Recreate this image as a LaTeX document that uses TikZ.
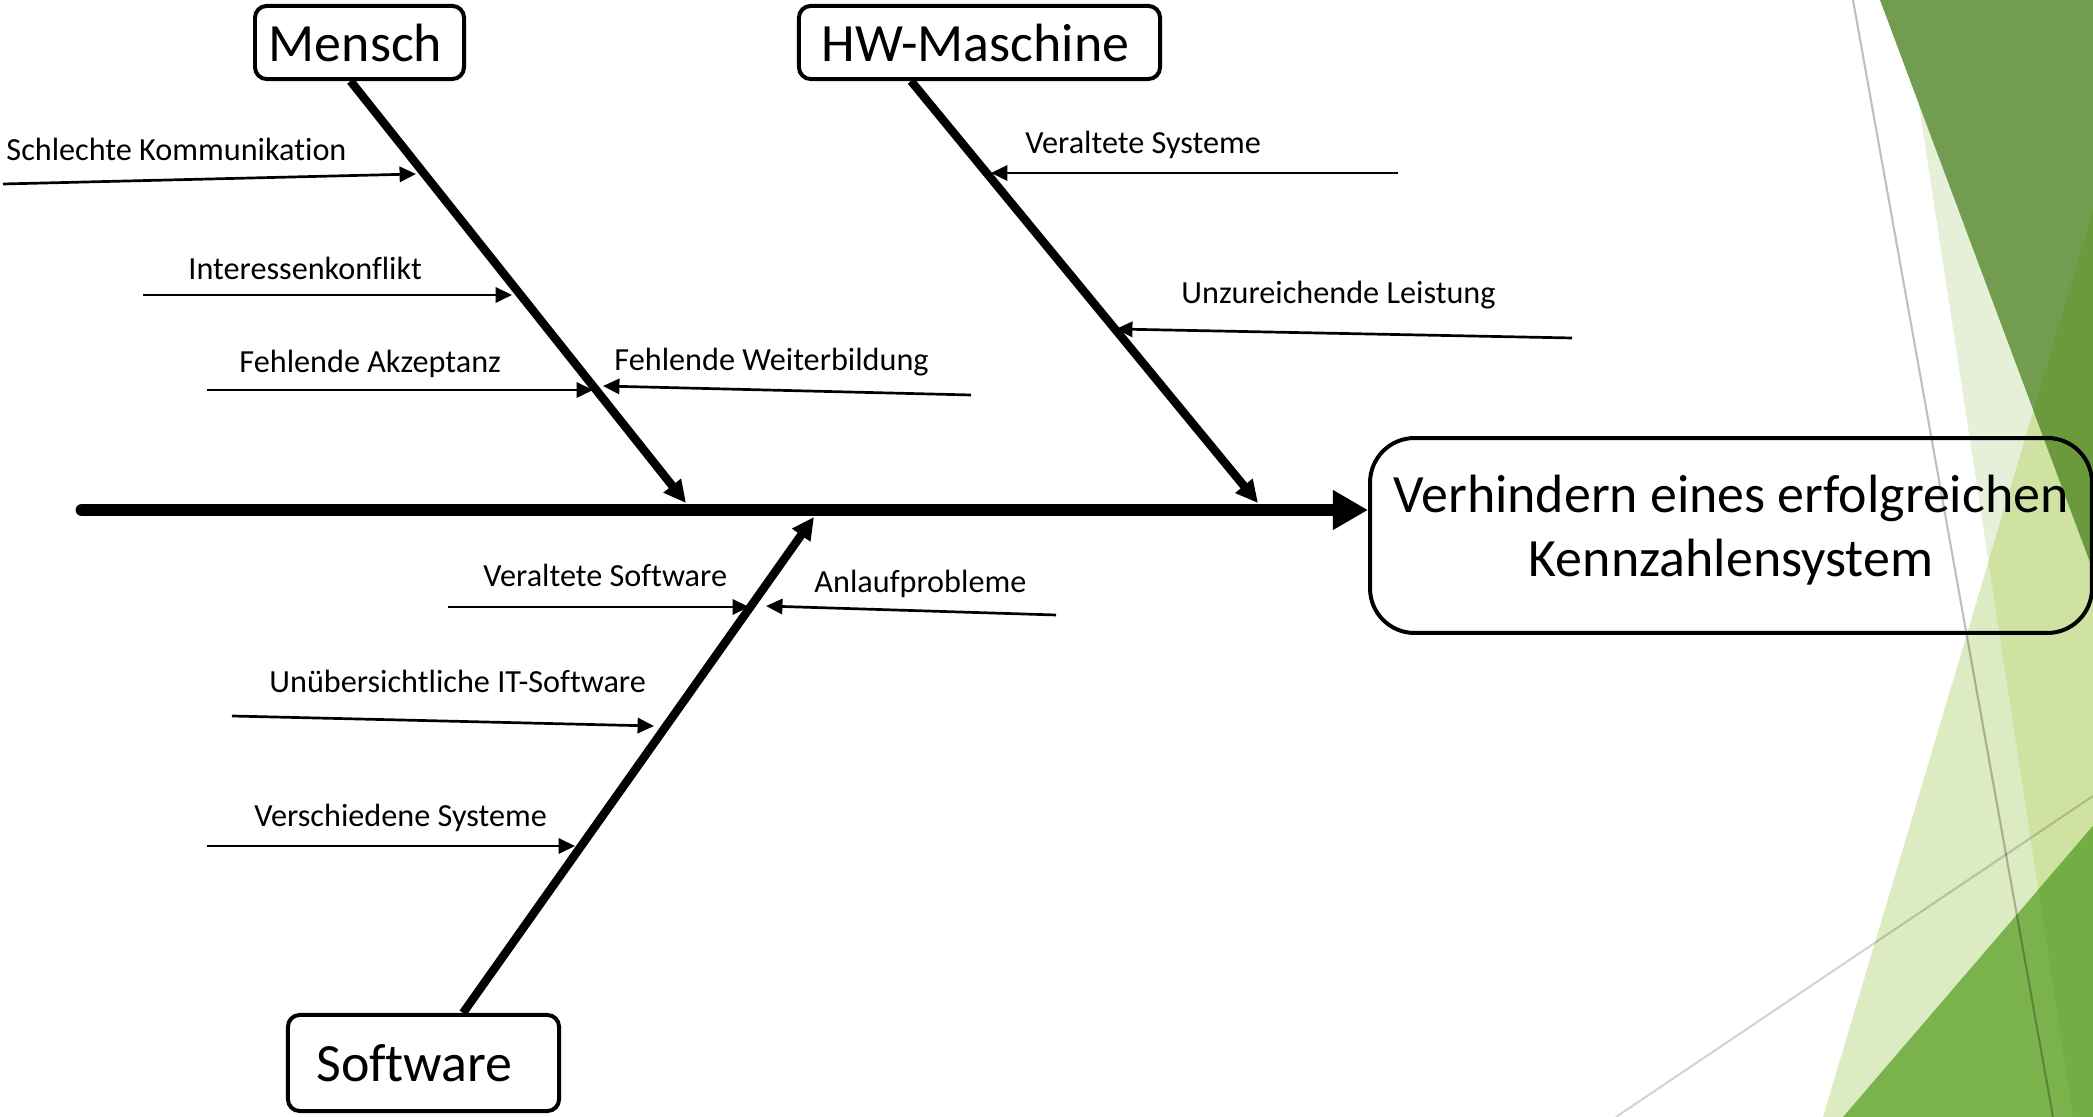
\documentclass[tikz,border=0pt]{standalone}
\usepackage{fontspec}
\setmainfont{Carlito}[Ligatures=NoCommon]
\usetikzlibrary{arrows.meta,calc}
\newcommand\bigtxt{\fontsize{23}{27.5}\selectfont}
\newcommand\smalltxt{\fontsize{13.75}{16}\selectfont}
\definecolor{cC}{HTML}{E6F0D8}
\definecolor{cD}{HTML}{DCEBC2}
\definecolor{cCD}{HTML}{CFE2A2}
\definecolor{cA}{HTML}{729C50}
\definecolor{cAD}{HTML}{6A9A3C}
\definecolor{cE}{HTML}{7AB34B}
\definecolor{cEC}{HTML}{73AE44}
\begin{document}
\begin{tikzpicture}[x=0.015cm,y=-0.015cm,
  box/.style={draw=black,line width=1.7pt,rounded corners=5pt,inner sep=0pt,font=\bigtxt},
  lbl/.style={anchor=base west,inner sep=0pt,font=\smalltxt},
  cause/.style={-{Triangle[length=7pt,width=6.5pt]},line width=1.15pt},
  bone/.style={-{Triangle[length=9.5pt,width=9pt]},line width=3.6pt},
  spine/.style={-{Triangle[length=15pt,width=16pt]},line width=5.5pt,line cap=round},
  bgline/.style={draw=black,line width=0.9pt}
]
\useasboundingbox (0,0) rectangle (2093,1117);
% background decoration
\begin{scope}
  \clip (0,0) rectangle (2093,1117);
  \fill[cC] (1903,0) -- (2093,0) -- (2093,1117) -- (2073,1117) -- cycle;
  \fill[cD] (2093,211) -- (1823,1117) -- (2093,1117) -- cycle;
  \begin{scope}
    \clip (1903,0) -- (2093,0) -- (2093,1117) -- (2073,1117) -- cycle;
    \fill[cCD] (2093,211) -- (1823,1117) -- (2093,1117) -- cycle;
  \end{scope}
  \fill[cA] (1880,0) -- (2093,0) -- (2093,570) -- cycle;
  \begin{scope}
    \clip (1880,0) -- (2093,0) -- (2093,570) -- cycle;
    \fill[cAD] (2093,211) -- (1823,1117) -- (2093,1117) -- cycle;
  \end{scope}
  \fill[cE] (2093,826) -- (1843,1117) -- (2093,1117) -- cycle;
  \begin{scope}
    \clip (1903,0) -- (2093,0) -- (2093,1117) -- (2073,1117) -- cycle;
    \fill[cEC] (2093,826) -- (1843,1117) -- (2093,1117) -- cycle;
  \end{scope}
  \draw[bgline,draw opacity=0.25] (1853,0) -- (2053,1117);
  \draw[bgline,draw opacity=0.17] (2093,796) -- (1616,1117);
\end{scope}

% boxes
\node[box,minimum width=89.2pt,minimum height=31.2pt] (mensch) at (359.5,42.5) {Mensch\hspace*{3.4pt}};
\node[box,minimum width=154.1pt,minimum height=31.2pt] (hw) at (979.5,42.5) {HW-Maschine\hspace*{3.4pt}};
\node[box,minimum width=115.7pt,minimum height=41pt] (sw) at (423.5,1063) {Software\hspace*{7.7pt}};
\node[box,rounded corners=19pt,minimum width=308.1pt,minimum height=83.2pt] (effect) at (1731,535.5) {};
\node[font=\bigtxt,align=center,inner sep=0pt] (effecttext) at (1731,530)
  {Verhindern eines erfolgreichen\\Kennzahlensystem};

% spine
\coordinate (spinetail) at (82,510);
\draw[spine] (spinetail) -- (spinetail -| effect.west);

% bones
\coordinate (mtip) at (686,503);
\coordinate (htip) at (1258,503);
\coordinate (stip) at (814,517);
\draw[bone] ($(mensch.south)+(-9,0)$) -- (mtip);
\draw[bone] ($(hw.south)+(-68.5,0)$) -- (htip);
\draw[bone] ($(sw.north)+(39.5,0)$) -- (stip);

% causes
\coordinate (skA) at (3,184);    \coordinate (skB) at (416,174);
\coordinate (ikA) at (143,295);  \coordinate (ikB) at (512,295);
\coordinate (faA) at (207,390);  \coordinate (faB) at (593,390);
\coordinate (fwA) at (971,395);  \coordinate (fwB) at (603,386);
\coordinate (vsyA) at (1398,173); \coordinate (vsyB) at (991,173);
\coordinate (ulA) at (1572,338); \coordinate (ulB) at (1116,329);
\coordinate (vsoA) at (448,607); \coordinate (vsoB) at (749,607);
\coordinate (apA) at (1056,615); \coordinate (apB) at (766,606);
\coordinate (uitA) at (232,716); \coordinate (uitB) at (654,726);
\coordinate (vesA) at (207,846); \coordinate (vesB) at (575,846);
\draw[cause] (skA) -- (skB);
\draw[cause] (ikA) -- (ikB);
\draw[cause] (faA) -- (faB);
\draw[cause] (fwA) -- (fwB);
\draw[cause] (vsyA) -- (vsyB);
\draw[cause] (ulA) -- (ulB);
\draw[cause] (vsoA) -- (vsoB);
\draw[cause] (apA) -- (apB);
\draw[cause] (uitA) -- (uitB);
\draw[cause] (vesA) -- (vesB);

% labels
\node[lbl] (lsk) at (6,161) {Schlechte Kommunikation};
\node[lbl] (lik) at (188,280) {Interessenkonflikt};
\node[lbl] (lfa) at (239,373) {Fehlende Akzeptanz};
\node[lbl] (lfw) at (614,371) {Fehlende Weiterbildung};
\node[lbl] (lvsy) at (1025,154) {Veraltete Systeme};
\node[lbl] (lul) at (1181,304) {Unzureichende Leistung};
\node[lbl] (lvso) at (483,587) {Veraltete Software};
\node[lbl] (lap) at (814,593) {Anlaufprobleme};
\node[lbl] (luit) at (269,693) {Unübersichtliche IT-Software};
\node[lbl] (lves) at (254,827) {Verschiedene Systeme};
\end{tikzpicture}
\end{document}
